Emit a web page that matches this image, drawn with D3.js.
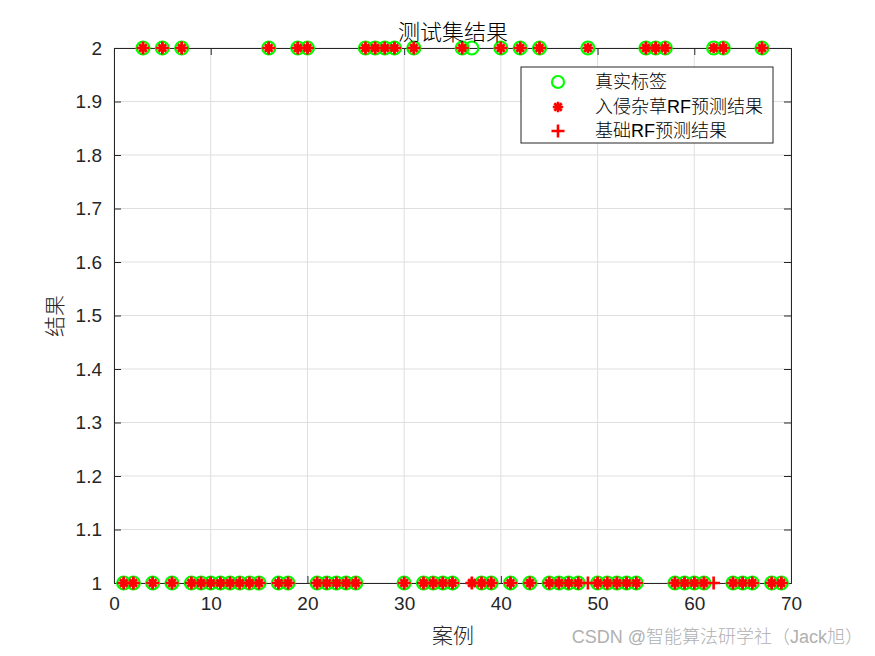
<!DOCTYPE html>
<html><head><meta charset="utf-8">
<script src="https://cdn.jsdelivr.net/npm/d3@7/dist/d3.min.js"></script>
<style>
body{margin:0;background:#fff;}
text{font-family:Arial,"Liberation Sans","Noto Sans CJK SC",sans-serif;}
.cjk{font-family:"Liberation Sans","Noto Sans CJK SC",sans-serif;font-weight:300;}
</style></head>
<body><svg id="c" width="875" height="656"></svg>
<script>
const caseIds = [1,2,3,4,5,6,7,8,9,10,11,12,13,14,15,16,17,18,19,20,21,22,23,24,25,26,27,28,29,30,31,32,33,34,35,36,37,38,39,40,41,42,43,44,45,46,47,48,49,50,51,52,53,54,55,56,57,58,59,60,61,62,63,64,65,66,67,68,69];
const trueLabels = [1,1,2,1,2,1,2,1,1,1, 1,1,1,1,1,2,1,1,2,2, 1,1,1,1,1,2,2,2,2,1, 2,1,1,1,1,2,2,1,1,2, 1,2,1,2,1,1,1,1,2,1, 1,1,1,1,2,2,2,1,1,1, 1,2,2,1,1,1,2,1,1];
const weedRF =     [1,1,2,1,2,1,2,1,1,1, 1,1,1,1,1,2,1,1,2,2, 1,1,1,1,1,2,2,2,2,1, 2,1,1,1,1,2,1,1,1,2, 1,2,1,2,1,1,1,1,2,1, 1,1,1,1,2,2,2,1,1,1, 1,2,2,1,1,1,2,1,1];
const baseRF =     [1,1,2,1,2,1,2,1,1,1, 1,1,1,1,1,2,1,1,2,2, 1,1,1,1,1,2,2,2,2,1, 2,1,1,1,1,2,1,1,1,2, 1,2,1,2,1,1,1,1,1,1, 1,1,1,1,2,2,2,1,1,1, 1,1,2,1,1,1,2,1,1];
const xTicks = [0,10,20,30,40,50,60,70];
const yTicks = [1,1.1,1.2,1.3,1.4,1.5,1.6,1.7,1.8,1.9,2];
const legendLabels = ["真实标签","入侵杂草RF预测结果","基础RF预测结果"];

const svg = d3.select("#c");
const L=114, R=791, T=48, B=583;
const x = d3.scaleLinear().domain([0,70]).range([L,R]);
const y = d3.scaleLinear().domain([1,2]).range([B,T]);
const axCol = "#262626";

// grid
const g = svg.append("g");
g.selectAll(".gx").data(xTicks).join("line")
  .attr("x1",d=>x(d)).attr("x2",d=>x(d)).attr("y1",T).attr("y2",B)
  .attr("stroke","#dfdfdf").attr("stroke-width",1);
g.selectAll(".gy").data(yTicks).join("line")
  .attr("y1",d=>y(d)).attr("y2",d=>y(d)).attr("x1",L).attr("x2",R)
  .attr("stroke","#dfdfdf").attr("stroke-width",1);

// axes with inward ticks
const tl = 7;
const xb = svg.append("g").attr("transform",`translate(0,${B})`)
  .call(d3.axisBottom(x).tickValues(xTicks).tickSize(-tl).tickPadding(14).tickFormat(d3.format("d")));
const xt = svg.append("g").attr("transform",`translate(0,${T})`)
  .call(d3.axisTop(x).tickValues(xTicks).tickSize(-tl).tickFormat(""));
const yl = svg.append("g").attr("transform",`translate(${L},0)`)
  .call(d3.axisLeft(y).tickValues(yTicks).tickSize(-tl).tickPadding(12).tickFormat(d=>d3.format("")(+d.toFixed(1))));
const yr = svg.append("g").attr("transform",`translate(${R},0)`)
  .call(d3.axisRight(y).tickValues(yTicks).tickSize(-tl).tickFormat(""));
[xb,xt,yl,yr].forEach(a=>{
  a.select(".domain").attr("stroke",axCol).attr("stroke-width",1);
  a.selectAll(".tick line").attr("stroke",axCol);
  a.selectAll(".tick text").attr("fill",axCol).style("font-size","19px").style("font-family","Arial,'Liberation Sans',sans-serif");
});
xb.selectAll(".tick text").attr("dy","0.71em");

// markers
const pts = caseIds.map((c,i)=>({c, t:trueLabels[i], w:weedRF[i], b:baseRF[i]}));
svg.append("g").selectAll("circle").data(pts).join("circle")
  .attr("cx",d=>x(d.c)).attr("cy",d=>y(d.t)).attr("r",6.5)
  .attr("fill","none").attr("stroke","#00ff00").attr("stroke-width",2.2);

function star(sel, s){
  sel.append("path").attr("d",`M${-s},0H${s}M0,${-s}V${s}M${-s*0.72},${-s*0.72}L${s*0.72},${s*0.72}M${-s*0.72},${s*0.72}L${s*0.72},${-s*0.72}`)
    .attr("stroke","#ff0000").attr("stroke-width",2.6).attr("fill","none");
}
svg.append("g").selectAll("g").data(pts).join("g")
  .attr("transform",d=>`translate(${x(d.c)},${y(d.w)})`)
  .each(function(){ star(d3.select(this),5.2); });

svg.append("g").selectAll("path").data(pts).join("path")
  .attr("transform",d=>`translate(${x(d.c)},${y(d.b)})`)
  .attr("d","M-6.5,0H6.5M0,-6.5V6.5").attr("stroke","#ff0000").attr("stroke-width",2.6);

// title & labels
svg.append("text").attr("class","cjk").attr("x",453).attr("y",40).attr("text-anchor","middle")
  .style("font-size","22px").attr("fill","#000").text("测试集结果");
svg.append("text").attr("class","cjk").attr("x",453).attr("y",643).attr("text-anchor","middle")
  .style("font-size","21px").attr("fill",axCol).text("案例");
svg.append("text").attr("class","cjk").attr("transform","translate(62,316) rotate(-90)").attr("text-anchor","middle")
  .style("font-size","21px").attr("fill",axCol).text("结果");

// legend
const lg = svg.append("g");
lg.append("rect").attr("x",521).attr("y",67).attr("width",252).attr("height",76)
  .attr("fill","#fff").attr("stroke",axCol).attr("stroke-width",1);
const ly = [82,107,131];
lg.append("circle").attr("cx",558).attr("cy",ly[0]).attr("r",6).attr("fill","none").attr("stroke","#00ff00").attr("stroke-width",2.2);
const ls = lg.append("g").attr("transform",`translate(558,${ly[1]})`); star(ls,5.2);
lg.append("path").attr("transform",`translate(558,${ly[2]})`).attr("d","M-6.5,0H6.5M0,-6.5V6.5").attr("stroke","#ff0000").attr("stroke-width",2.6);
lg.selectAll("text.l").data(legendLabels).join("text").attr("class","cjk")
  .attr("x",595).attr("y",(d,i)=>ly[i]).attr("dy","0.36em")
  .style("font-size","18px").attr("fill","#000").text(d=>d);

// watermark
svg.append("text").attr("class","cjk").attr("x",863).attr("y",643).attr("text-anchor","end")
  .style("font-size","18px").attr("fill","#b0b0b0").text("CSDN @智能算法研学社（Jack旭）");
</script></body></html>
